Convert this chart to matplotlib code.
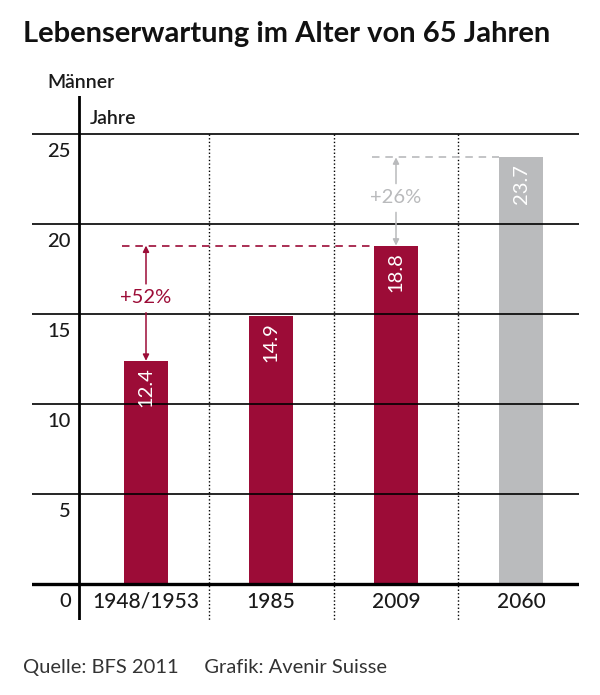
""" Lebenserwartung im Alter von 65 Jahren - Männer. """

import matplotlib
matplotlib.use("Agg")
import matplotlib.pyplot as plt

# data
categories = ["1948/1953", "1985", "2009", "2060"]
values = [12.4, 14.9, 18.8, 23.7]
is_forecast = [False, False, False, True]
y_ticks = [0, 5, 10, 15, 20, 25]
# change annotations: (from index, to index, label)
changes = [(0, 2, "+52%"), (2, 3, "+26%")]

RED = "#9c0c37"
GREY = "#babbbd"
GREY_TXT = "#b9babc"
INK = "#1a1a1a"

plt.rcParams["font.family"] = ["Lato", "DejaVu Sans"]

fig = plt.figure(figsize=(6.0, 6.95), dpi=100)
ax = fig.add_axes([32 / 600, 75 / 695, 547 / 600, 524 / 695])
ax.set_xlim(-0.912, 3.464)
ax.set_ylim(-2.0, 27.11)
ax.axis("off")

bar_w = 0.352
xs = list(range(len(categories)))
colors = [GREY if f else RED for f in is_forecast]
ax.bar(xs, values, width=bar_w, color=colors, zorder=2)

# gridlines
for t in y_ticks[1:]:
    ax.axhline(t, color="black", lw=1.2, zorder=3)
ax.axhline(0, color="black", lw=2.4, zorder=4)
ax.axvline(-0.536, color="black", lw=2.0, zorder=4)

# dotted separators
for i in range(len(categories) - 1):
    ax.plot([i + 0.5, i + 0.5], [y_ticks[-1], -2.0], color="black",
            lw=1.0, linestyle=(0, (1, 1.6)), zorder=1)

# tick labels
for t in y_ticks:
    ax.text(-0.6, t - 0.95, str(t), ha="right", va="center",
            fontsize=14.5, fontweight="medium", color=INK)

for x, c in zip(xs, categories):
    ax.text(x, -1.0, c, ha="center", va="center", fontsize=15,
            fontweight="medium", color=INK)

# values inside bars
for x, v in zip(xs, values):
    ax.text(x, v - 0.35, f"{v:.1f}", rotation=90, ha="center", va="top",
            fontsize=14.5, color="white", zorder=5)

# change annotations
for i0, i1, lab in changes:
    col = GREY_TXT if is_forecast[i1] else RED
    x = xs[i0]
    v0 = values[i0]
    v1 = values[i1]
    ax.plot([x - 0.19, xs[i1] - bar_w / 2], [v1, v1], color=col, lw=1.2,
            linestyle=(0, (4.5, 3.5)), zorder=3)
    mid = v0 + (v1 - v0) * 0.55
    ax.text(x, mid, lab, ha="center", va="center", fontsize=14.5, color=col)
    ax.annotate("", xy=(x, v1), xytext=(x, mid + 0.75),
                arrowprops=dict(arrowstyle="-|>", color=col, lw=1.1,
                                mutation_scale=9, shrinkA=0, shrinkB=0))
    ax.annotate("", xy=(x, v0), xytext=(x, mid - 0.85),
                arrowprops=dict(arrowstyle="-|>", color=col, lw=1.1,
                                mutation_scale=9, shrinkA=0, shrinkB=0))

fig.text(23 / 600, 1 - 34 / 695, "Lebenserwartung im Alter von 65 Jahren",
         ha="left", va="center", fontsize=21, fontweight="bold", color="#111111")
fig.text(47 / 600, 1 - 82 / 695, "Männer", ha="left", va="center",
         fontsize=14, fontweight="semibold", color=INK)
fig.text(90 / 600, 1 - 118 / 695, "Jahre", ha="left", va="center",
         fontsize=14, fontweight="semibold", color=INK)
fig.text(23 / 600, 1 - 667 / 695, "Quelle: BFS 2011     Grafik: Avenir Suisse",
         ha="left", va="center", fontsize=14.5, color="#333333")

fig.savefig("out.png", dpi=100)
